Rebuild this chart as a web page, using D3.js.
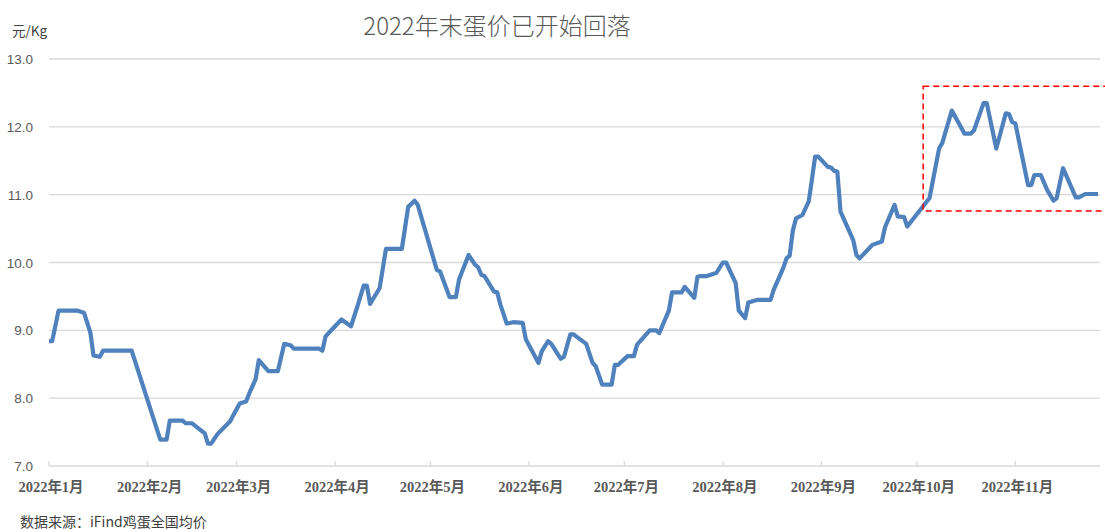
<!DOCTYPE html>
<html>
<head>
<meta charset="utf-8">
<script src="https://cdn.jsdelivr.net/npm/d3@7"></script>
<style>
  html, body { margin: 0; padding: 0; background: #fff; }
  svg { display: block; }
</style>
</head>
<body>
<div id="chart"></div>
<script>
// egg price 2022 (breakpoints of the line)
const dates = [
  "01-01","01-02","01-04","01-10","01-12","01-14","01-15","01-17","01-18","01-27",
  "02-05","02-07","02-08","02-12","02-13","02-15","02-19","02-20","02-21","02-23",
  "02-27","02-28","03-02","03-04","03-05","03-07","03-08","03-11","03-14","03-16",
  "03-18","03-19","03-27","03-28","03-29","03-30","04-03","04-06","04-08","04-10",
  "04-11","04-12","04-15","04-17","04-22","04-24","04-26","04-27","05-03","05-04",
  "05-07","05-09","05-10","05-13","05-15","05-16","05-17","05-18","05-21","05-22",
  "05-23","05-25","05-27","05-30","05-31","06-04","06-05","06-07","06-08","06-11",
  "06-12","06-14","06-15","06-19","06-21","06-22","06-24","06-27","06-28","06-29",
  "07-02","07-04","07-05","07-09","07-11","07-12","07-15","07-16","07-19","07-20",
  "07-23","07-24","07-25","07-27","07-30","08-01","08-02","08-05","08-06","08-08",
  "08-09","08-12","08-16","08-17","08-20","08-21","08-22","08-23","08-24","08-26",
  "08-28","08-29","08-30","08-31","09-03","09-04","09-05","09-06","09-07","09-11",
  "09-12","09-13","09-17","09-20","09-21","09-24","09-25","09-27","09-28","10-05",
  "10-08","10-09","10-12","10-16","10-18","10-19","10-22","10-23","10-26","10-29",
  "10-30","10-31","11-01","11-05","11-06","11-07","11-09","11-11","11-13","11-14",
  "11-16","11-20","11-21","11-23","11-27"
]
const prices = [
  8.84,8.84,9.29,9.29,9.26,8.97,8.63,8.61,8.70,8.70,
  7.39,7.39,7.67,7.67,7.63,7.63,7.48,7.33,7.33,7.47,
  7.66,7.75,7.92,7.95,8.07,8.28,8.56,8.40,8.40,8.80,
  8.78,8.73,8.73,8.70,8.91,8.96,9.16,9.06,9.35,9.66,
  9.66,9.39,9.62,10.20,10.20,10.82,10.91,10.85,9.89,9.87,
  9.49,9.49,9.75,10.11,9.97,9.93,9.82,9.80,9.57,9.56,
  9.38,9.10,9.12,9.11,8.87,8.52,8.69,8.84,8.80,8.58,
  8.61,8.94,8.94,8.80,8.52,8.47,8.20,8.20,8.49,8.49,
  8.62,8.62,8.79,9.00,9.00,8.96,9.29,9.56,9.56,9.64,
  9.48,9.79,9.80,9.80,9.85,10.00,10.00,9.70,9.29,9.18,
  9.41,9.45,9.45,9.60,9.92,10.06,10.10,10.47,10.65,10.70,
  10.90,11.22,11.56,11.56,11.41,11.40,11.35,11.34,10.75,10.33,
  10.11,10.06,10.26,10.31,10.52,10.85,10.68,10.67,10.53,10.95,
  11.68,11.76,12.24,11.90,11.90,11.95,12.35,12.35,11.68,12.20,
  12.19,12.07,12.05,11.14,11.14,11.29,11.29,11.07,10.91,10.95,
  11.39,10.96,10.96,11.01,11.01
]
const yTicks = [7, 8, 9, 10, 11, 12, 13]
const monthLabels = ["2022年1月","2022年2月","2022年3月","2022年4月","2022年5月","2022年6月",
  "2022年7月","2022年8月","2022年9月","2022年10月","2022年11月"]
// highlighted window (dashed box)
const boxRange = { from: "2022-10-03", top: 12.6, bottom: 10.76 }

const width = 1105
const height = 532
const margin = { top: 59, right: 7, bottom: 66, left: 49 }
const parse = d3.timeParse("%Y-%m-%d")

const data = dates.map((d, i) => ({ date: parse("2022-" + d), value: prices[i] }))

const svg = d3.select("#chart")
  .append("svg")
    .attr("width", width)
    .attr("height", height)

const xScale = d3.scaleTime()
  .domain([parse("2022-01-01"), parse("2022-11-27")])
  .range([margin.left, width - margin.right])

const yScale = d3.scaleLinear()
  .domain([7, 13])
  .range([height - margin.bottom, margin.top])

// gridlines
svg.append("g")
  .selectAll("line")
  .data(yTicks)
  .join("line")
    .attr("x1", margin.left)
    .attr("x2", width - margin.right + 2)
    .attr("y1", d => yScale(d))
    .attr("y2", d => yScale(d))
    .attr("stroke", "#d9d9d9")
    .attr("stroke-width", 1.3)

// y labels
svg.append("g")
  .selectAll("text")
  .data(yTicks)
  .join("text")
    .attr("x", 33)
    .attr("y", d => yScale(d) + 5)
    .attr("text-anchor", "end")
    .attr("fill", "#595959")
    .style("font-family", "'Liberation Sans', 'Noto Sans', sans-serif")
    .style("font-size", "13.5px")
    .text(d => d.toFixed(1))

// x axis ticks (month starts) + labels
const months = d3.timeMonth.range(parse("2022-01-01"), parse("2022-11-28"))
const xAxis = svg.append("g")
xAxis.selectAll("line")
  .data(months)
  .join("line")
    .attr("x1", d => xScale(d))
    .attr("x2", d => xScale(d))
    .attr("y1", yScale(7) - 5)
    .attr("y2", yScale(7))
    .attr("stroke", "#d9d9d9")
    .attr("stroke-width", 1.3)
xAxis.selectAll("text")
  .data(months)
  .join("text")
    .attr("x", d => xScale(d) + 2)
    .attr("y", 492)
    .attr("text-anchor", "middle")
    .attr("fill", "#595959")
    .style("font-family", "'Liberation Serif', 'Noto Sans CJK SC', serif")
    .style("font-weight", "bold")
    .style("font-size", "14.5px")
    .text((d, i) => monthLabels[i])

// price line
const line = d3.line()
  .x(d => xScale(d.date))
  .y(d => yScale(d.value))

svg.append("path")
  .datum(data)
  .attr("fill", "none")
  .attr("stroke", "#4f81bd")
  .attr("stroke-width", 4.2)
  .attr("stroke-linejoin", "round")
  .attr("d", line)

// dashed highlight box
svg.append("rect")
  .attr("x", xScale(parse(boxRange.from)))
  .attr("y", yScale(boxRange.top))
  .attr("width", width + 5 - xScale(parse(boxRange.from)))
  .attr("height", yScale(boxRange.bottom) - yScale(boxRange.top))
  .attr("fill", "none")
  .attr("stroke", "#ff0000")
  .attr("stroke-width", 1.5)
  .attr("stroke-dasharray", "6,4")

// texts
svg.append("text")
  .attr("x", 497)
  .attr("y", 35)
  .attr("text-anchor", "middle")
  .attr("fill", "#595959")
  .style("font-family", "'Noto Sans CJK SC', sans-serif")
  .style("font-size", "24px")
  .style("font-weight", 300)
  .text("2022年末蛋价已开始回落")

svg.append("text")
  .attr("x", 12)
  .attr("y", 36)
  .attr("fill", "#404040")
  .style("font-family", "'Noto Sans CJK SC', sans-serif")
  .style("font-size", "13.5px")
  .text("元/Kg")

svg.append("text")
  .attr("x", 20)
  .attr("y", 527)
  .attr("fill", "#404040")
  .style("font-family", "'Noto Sans CJK SC', sans-serif")
  .style("font-size", "14px")
  .text("数据来源：iFind鸡蛋全国均价")
</script>
</body>
</html>
